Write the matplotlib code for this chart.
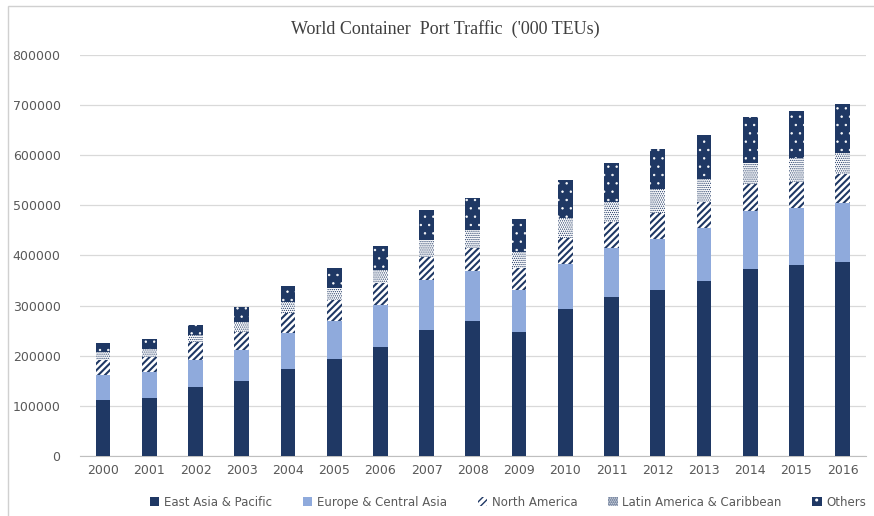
import numpy as np
import matplotlib.pyplot as plt
from matplotlib.patches import Rectangle

years = [str(y) for y in range(2000, 2017)]

# port throughput by region, '000 TEUs
east_asia = [112000, 116000, 138000, 150600, 173400, 193400, 216600, 252000, 268600,
             246600, 294000, 317400, 332000, 350000, 374000, 380600, 386600]
europe = [48600, 50600, 54000, 61400, 72000, 75200, 85400, 98600, 100000,
          85400, 90000, 98000, 101400, 104000, 114600, 113400, 117400]
north_america = [30000, 30800, 34600, 34600, 40000, 43400, 44000, 46800, 46800,
                 43400, 51400, 52000, 52000, 53400, 54800, 53400, 58000]
latin_america = [16000, 16000, 14000, 20000, 21200, 23400, 24600, 32600, 36000,
                 31200, 39200, 40000, 46600, 46000, 42000, 46600, 43400]
others = [19400, 20600, 21400, 30800, 33400, 40000, 47400, 60000, 64000,
          65400, 76000, 78000, 81400, 87200, 90000, 94600, 96600]

navy = "#1f3864"
light_blue = "#8faadc"

fig = plt.figure(figsize=(8.74, 5.16), dpi=100)
ax = fig.add_axes([0.0915, 0.1163, 0.899, 0.7771])

x = np.arange(len(years))
w = 0.32
bottom = np.zeros(len(years))

# (label, values, style, hatch line width)
series = [
    ("East Asia & Pacific", east_asia, dict(color=navy), 1.0),
    ("Europe & Central Asia", europe, dict(color=light_blue), 1.0),
    ("North America", north_america, dict(facecolor="white", edgecolor=navy, hatch="/////"), 1.5),
    ("Latin America & Caribbean", latin_america, dict(facecolor="white", edgecolor=navy, hatch="........"), 0.6),
    ("Others", others, dict(facecolor=navy, edgecolor="white", hatch=".."), 0.5),
]

for name, vals, style, hlw in series:
    vals = np.array(vals, dtype=float)
    with plt.rc_context({"hatch.linewidth": hlw}):
        bars = ax.bar(x, vals, w, bottom=bottom, label=name, linewidth=0, zorder=3, **style)
        for p in bars:
            if hasattr(p, "set_hatch_linewidth"):
                p.set_hatch_linewidth(hlw)
    bottom += vals

ax.set_xlim(-0.5, len(years) - 0.5)
ax.set_ylim(0, 800000)
ax.set_yticks(np.arange(0, 800001, 100000))
ax.set_yticklabels([str(v) for v in range(0, 800001, 100000)])
ax.set_xticks(x)
ax.set_xticklabels(years)
ax.tick_params(axis="both", length=0, labelsize=9, colors="#595959")
ax.tick_params(axis="y", pad=14)
ax.tick_params(axis="x", pad=6)

ax.grid(axis="y", color="#d9d9d9", linewidth=0.9, zorder=0)
for side in ["top", "right", "left"]:
    ax.spines[side].set_visible(False)
ax.spines["bottom"].set_color("#bfbfbf")

fig.text(0.51, 0.944, "World Container  Port Traffic  ('000 TEUs)",
         ha="center", va="center", family="Liberation Serif", fontsize=13, color="#404040")

leg = ax.legend(loc="center", bbox_to_anchor=(0.545, -0.115), ncol=5, frameon=False,
                fontsize=8.5, handlelength=0.8, handleheight=0.8, handletextpad=0.4,
                columnspacing=2.6)
for t in leg.get_texts():
    t.set_color("#595959")

# thin frame around the chart area
fig.patches.append(Rectangle((0.009, -0.01), 1.0, 0.999, transform=fig.transFigure,
                             fill=False, edgecolor="#d0d0d0", linewidth=1))

fig.savefig("out.png", dpi=100)
